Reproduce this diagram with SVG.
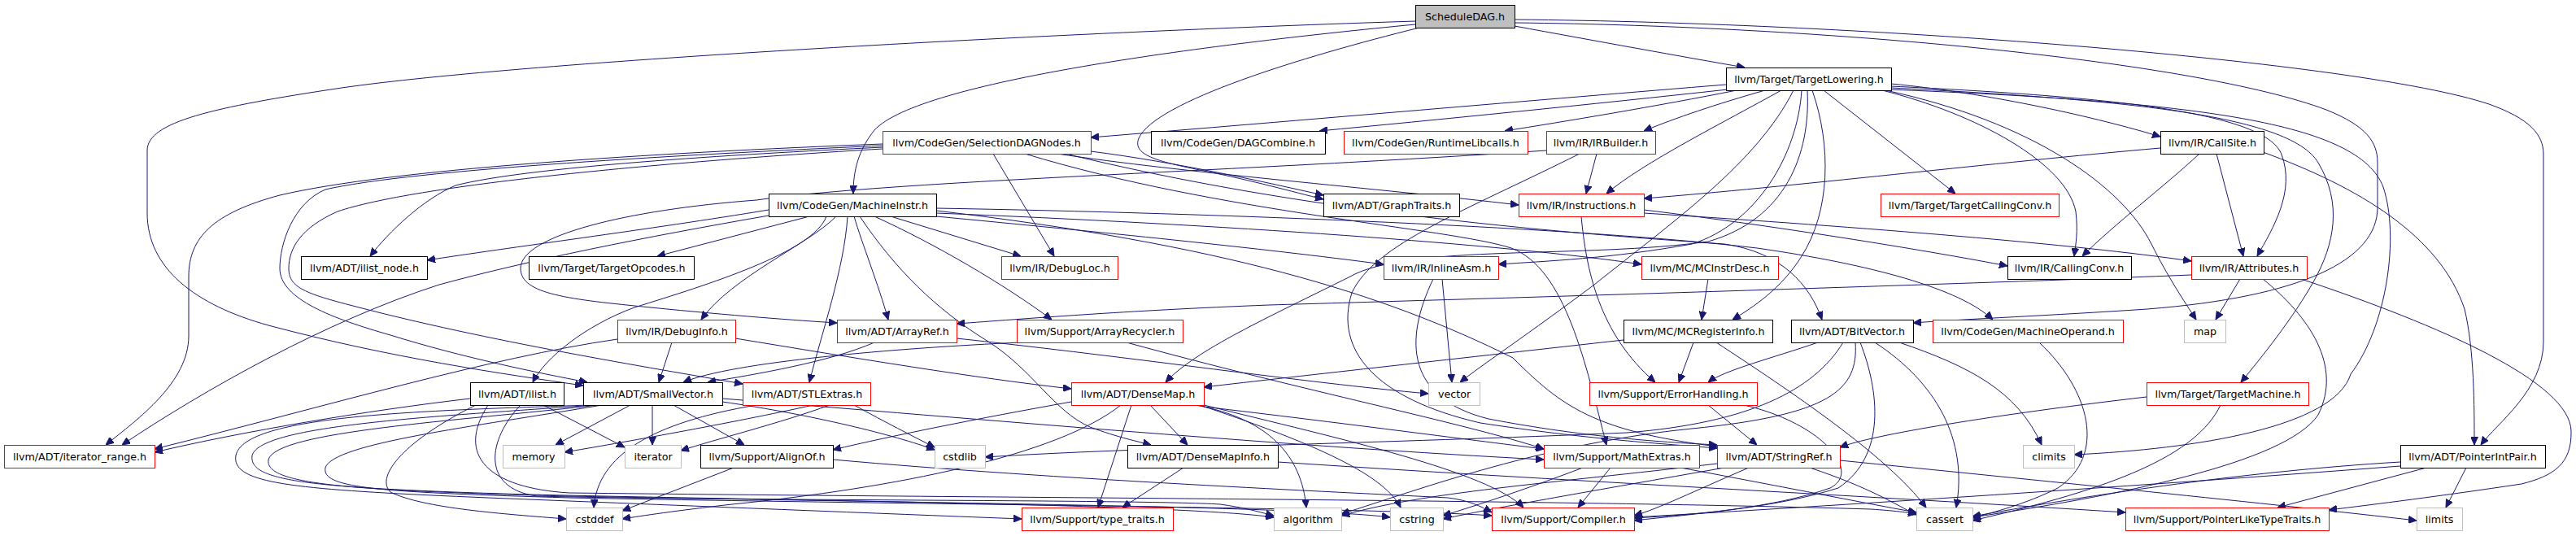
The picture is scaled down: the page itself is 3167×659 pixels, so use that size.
<svg xmlns="http://www.w3.org/2000/svg" width="3167" height="659" viewBox="0 0 3167 659">
<style>
.e{fill:none;stroke:#191970;stroke-width:1;marker-end:url(#a)}
.nb rect{fill:#fff;stroke:#000}
.nr rect{fill:#fff;stroke:#f00}
.ng rect{fill:#fff;stroke:#bfbfbf}
.root rect{fill:#bfbfbf;stroke:#000}
text{font-family:"DejaVu Sans","Liberation Sans",sans-serif;font-size:12.7px;text-anchor:middle;fill:#000}
</style>
<defs>
<marker id="a" markerWidth="10" markerHeight="9" refX="10" refY="4.5" orient="auto" markerUnits="userSpaceOnUse"><path d="M0,0 L10,4.5 L0,9 z" fill="#191970" stroke="#191970"/></marker>
</defs>
<rect width="3167" height="659" fill="#fff"/>
<g id="edges">
<path class="e" d="M1862,32 C1960,50 2070,70 2145,83"/>
<path class="e" d="M1740,30 C1480,55 1130,100 1075,160 C1055,185 1049,210 1049,238"/>
<path class="e" d="M1745,34 C1600,70 1420,125 1400,170 C1392,190 1420,198 1480,210 C1540,222 1590,236 1627,245"/>
<path class="e" d="M1740,26 C1300,40 650,75 420,108 C260,132 181,150 181,185 L181,262 C181,330 240,375 330,400 C480,440 620,460 717,474"/>
<path class="e" d="M1862,28 C2250,32 2700,75 2860,135 C2910,155 2923,175 2923,200 L2923,255 C2923,320 2830,365 2640,380 C2520,388 2420,392 2352,397"/>
<path class="e" d="M1862,24 C2300,28 2900,75 3060,128 C3110,146 3127,165 3127,190 L3127,420 C3127,480 3070,520 3050,547"/>
<path class="e" d="M2122,104 C1900,122 1600,148 1341,169"/>
<path class="e" d="M2124,110 C1960,128 1760,148 1622,161"/>
<path class="e" d="M2135,111 C2040,130 1920,150 1850,161"/>
<path class="e" d="M2170,111 C2110,128 2060,145 2021,161"/>
<path class="e" d="M2190,111 C2120,150 2020,200 1975,238"/>
<path class="e" d="M2205,111 C2160,200 2060,270 1960,350 C1880,410 1820,450 1795,470"/>
<path class="e" d="M2215,111 C2210,190 2160,275 2080,300 C1980,318 1900,321 1842,325"/>
<path class="e" d="M2222,111 C2226,190 2195,270 2100,297 C1950,318 1730,300 1660,340 C1560,390 1470,430 1433,470"/>
<path class="e" d="M2228,111 C2252,180 2250,260 2215,315 C2190,355 2155,378 2130,393"/>
<path class="e" d="M2242,111 L2404,238"/>
<path class="e" d="M2314,111 C2430,140 2540,200 2552,260 C2555,285 2552,300 2550,315"/>
<path class="e" d="M2325,103 C2450,115 2580,145 2656,168"/>
<path class="e" d="M2325,106 C2570,118 2785,135 2805,190 C2822,235 2795,280 2775,315"/>
<path class="e" d="M2325,108 C2600,122 2815,140 2850,200 C2880,250 2870,300 2845,345 C2820,390 2780,440 2755,470"/>
<path class="e" d="M2322,110 C2700,125 2900,150 2930,230 C2950,290 2935,400 2890,460 C2870,525 2700,552 2550,559"/>
<path class="e" d="M2318,111 C2500,150 2610,230 2645,300 C2665,340 2685,370 2700,393"/>
<path class="e" d="M1341,186 C1450,200 1560,225 1627,240"/>
<path class="e" d="M1300,189 C1450,212 1700,232 1867,252"/>
<path class="e" d="M1221,189 L1296,315"/>
<path class="e" d="M1085,181 C900,190 650,205 560,228 C520,245 478,285 455,315"/>
<path class="e" d="M1085,177 C800,188 480,208 344,240 C262,262 232,292 232,340 L232,413 C232,470 170,515 130,547"/>
<path class="e" d="M1085,179 C800,192 500,210 400,233 C360,250 344,300 344,330 C344,368 410,392 480,412 C570,440 660,458 722,470"/>
<path class="e" d="M1085,183 C800,200 510,228 415,260 C370,280 355,305 355,330 C355,352 372,360 430,375 C600,420 800,452 913,472"/>
<path class="e" d="M1310,189 C1600,260 1900,285 2120,300 C2190,310 2225,350 2240,393"/>
<path class="e" d="M1260,189 C1500,262 1780,280 1858,305 C1925,330 1950,450 1975,547"/>
<path class="e" d="M945,258 C800,282 620,305 525,320"/>
<path class="e" d="M945,265 C790,292 650,320 540,350 C400,395 250,480 150,547"/>
<path class="e" d="M995,266 L808,315"/>
<path class="e" d="M1095,266 L1255,315"/>
<path class="e" d="M1016,266 C1000,310 870,350 780,378 C720,400 670,440 655,470"/>
<path class="e" d="M1028,266 C995,300 900,340 862,393"/>
<path class="e" d="M1050,266 C1060,300 1080,350 1092,393"/>
<path class="e" d="M1042,266 C1038,330 1010,410 995,470"/>
<path class="e" d="M1075,266 C1150,300 1235,350 1293,393"/>
<path class="e" d="M1057,266 C1100,330 1150,380 1215,420 C1270,455 1295,505 1340,525 C1375,538 1400,543 1415,547"/>
<path class="e" d="M1151,266 C1350,285 1550,305 1701,325"/>
<path class="e" d="M1151,262 C1500,276 1850,300 2018,325"/>
<path class="e" d="M1151,256 C1500,262 1950,280 2160,305 C2300,325 2410,355 2450,393"/>
<path class="e" d="M1151,259 C1500,300 1700,360 1860,440 C1920,500 1960,530 2111,549"/>
<path class="e" d="M1944,266 C1950,330 1965,410 2035,470"/>
<path class="e" d="M2021,262 C2300,280 2550,300 2694,321"/>
<path class="e" d="M2021,258 C2200,280 2380,310 2468,327"/>
<path class="e" d="M1963,189 L1950,238"/>
<path class="e" d="M1901,185 C1500,212 1100,222 930,246 C770,258 640,290 640,330 C640,362 700,368 800,378 C900,388 980,394 1029,397"/>
<path class="e" d="M1942,189 C1800,260 1690,300 1662,360 C1640,430 1690,490 1820,520 C1950,540 2050,546 2111,551"/>
<path class="e" d="M1762,343 C1725,420 1730,490 1830,515 C1950,538 2050,544 2111,547"/>
<path class="e" d="M1773,343 L1785,470"/>
<path class="e" d="M2656,182 C2450,200 2200,230 2021,244"/>
<path class="e" d="M2704,189 C2660,230 2600,275 2560,315"/>
<path class="e" d="M2725,189 L2758,315"/>
<path class="e" d="M2782,187 C2900,230 3000,290 3030,380 C3042,430 3042,500 3042,547"/>
<path class="e" d="M2754,343 L2724,393"/>
<path class="e" d="M2829,343 C3000,400 3160,470 3161,530 C3162,570 3140,585 3100,595 C3000,610 2920,620 2863,627"/>
<path class="e" d="M2782,343 C2840,390 2880,450 2850,510 C2810,570 2600,610 2425,636"/>
<path class="e" d="M2694,338 C2400,350 1800,368 1560,375 C1380,382 1260,392 1176,398"/>
<path class="e" d="M826,421 L810,470"/>
<path class="e" d="M904,416 C1050,440 1200,465 1317,478"/>
<path class="e" d="M759,417 C600,440 400,500 190,552"/>
<path class="e" d="M1075,421 C1020,445 930,460 870,470"/>
<path class="e" d="M1176,416 C1400,440 1600,470 1756,484"/>
<path class="e" d="M1255,421 C1100,428 900,445 840,470"/>
<path class="e" d="M1385,421 C1600,480 1800,520 1898,552"/>
<path class="e" d="M2100,343 L2092,393"/>
<path class="e" d="M1996,418 C1800,440 1600,462 1480,476"/>
<path class="e" d="M2082,421 L2064,470"/>
<path class="e" d="M2110,421 C2200,480 2320,560 2368,624"/>
<path class="e" d="M2235,421 C2180,440 2120,455 2100,470"/>
<path class="e" d="M2266,421 C2230,480 2150,520 2000,532 C1700,545 1400,550 1211,562"/>
<path class="e" d="M2281,421 C2285,480 2250,510 2080,527 C1900,545 1750,600 1649,632"/>
<path class="e" d="M2305,421 C2380,470 2420,540 2405,624"/>
<path class="e" d="M2335,421 C2420,450 2480,480 2510,547"/>
<path class="e" d="M2287,421 C2310,480 2320,560 2260,600 C2180,625 2080,633 2009,637"/>
<path class="e" d="M2507,421 C2570,480 2590,560 2530,600 C2490,620 2450,630 2425,637"/>
<path class="e" d="M2639,488 C2450,510 2300,535 2262,550"/>
<path class="e" d="M2730,498 C2700,560 2600,600 2425,640"/>
<path class="e" d="M2100,498 L2160,547"/>
<path class="e" d="M2144,498 C2240,520 2290,580 2250,600 C2180,625 2080,632 2009,640"/>
<path class="e" d="M668,498 L768,550"/>
<path class="e" d="M585,498 C500,540 460,585 480,605 C520,625 620,632 696,638"/>
<path class="e" d="M578,490 C450,505 300,530 190,556"/>
<path class="e" d="M640,498 C600,540 590,600 660,610 C900,616 1400,614 1500,620 C1530,624 1550,630 1566,634"/>
<path class="e" d="M600,498 C560,560 600,600 700,606 C1200,612 1900,614 2300,626 C2330,628 2345,630 2356,632"/>
<path class="e" d="M775,498 L683,547"/>
<path class="e" d="M802,498 L802,547"/>
<path class="e" d="M828,498 L915,547"/>
<path class="e" d="M888,494 C1000,510 1100,535 1149,553"/>
<path class="e" d="M888,490 C1200,515 1600,550 1898,565"/>
<path class="e" d="M725,498 C520,505 300,510 290,560 C284,595 360,602 600,612 C900,624 1100,632 1256,638"/>
<path class="e" d="M730,498 C540,512 320,522 310,560 C305,592 380,600 650,608 C1000,616 1450,620 1566,636"/>
<path class="e" d="M735,498 C560,518 340,530 330,565 C325,595 420,603 700,610 C1100,618 1600,622 1709,636"/>
<path class="e" d="M740,498 C580,525 410,545 400,575 C395,600 460,605 700,612 C1100,620 1700,624 1834,634"/>
<path class="e" d="M1000,498 C900,520 760,545 694,556"/>
<path class="e" d="M1020,498 C960,520 880,540 837,554"/>
<path class="e" d="M1050,498 C1090,520 1120,535 1149,550"/>
<path class="e" d="M930,498 C800,520 735,560 730,624"/>
<path class="e" d="M1414,498 L1460,547"/>
<path class="e" d="M1391,498 L1350,624"/>
<path class="e" d="M1317,494 C1200,515 1100,535 1024,553"/>
<path class="e" d="M1378,498 C1300,560 1100,600 900,620 C830,628 790,634 765,638"/>
<path class="e" d="M1480,500 C1650,520 1800,540 1898,552"/>
<path class="e" d="M1470,498 C1560,515 1600,560 1606,624"/>
<path class="e" d="M1475,498 C1600,540 1700,580 1722,624"/>
<path class="e" d="M1480,498 C1650,540 1830,580 1873,624"/>
<path class="e" d="M1455,575 L1380,624"/>
<path class="e" d="M1571,568 C1900,590 2300,610 2613,630"/>
<path class="e" d="M902,575 L765,628"/>
<path class="e" d="M1024,565 C1300,590 1650,605 1780,612 C1805,615 1820,622 1834,630"/>
<path class="e" d="M1980,575 L1940,624"/>
<path class="e" d="M1946,575 C1880,600 1820,620 1774,634"/>
<path class="e" d="M2066,575 C2200,600 2300,620 2356,630"/>
<path class="e" d="M2111,570 C1900,595 1750,605 1649,634"/>
<path class="e" d="M2120,575 C1950,605 1850,622 1774,638"/>
<path class="e" d="M2150,575 C2080,605 2040,625 2009,634"/>
<path class="e" d="M2225,575 C2300,600 2330,620 2356,633"/>
<path class="e" d="M2262,566 C2500,590 2800,620 2971,640"/>
<path class="e" d="M2983,575 L2800,624"/>
<path class="e" d="M3032,575 L3007,624"/>
<path class="e" d="M2951,568 C2750,580 2550,612 2425,635"/>
<path class="e" d="M2951,573 C2600,600 2200,625 2009,636"/>
</g>
<g id="n1" class="root"><rect x="1740.5" y="6.5" width="122" height="28"/><text x="1801" y="24.5">ScheduleDAG.h</text></g>
<g id="n2" class="nb"><rect x="2122.5" y="83.5" width="203" height="28"/><text x="2224" y="101.5">llvm/Target/TargetLowering.h</text></g>
<g id="n3" class="nr"><rect x="1085.5" y="161.5" width="256" height="28"/><text x="1213" y="179.5">llvm/CodeGen/SelectionDAGNodes.h</text></g>
<g id="n4" class="nb"><rect x="1415.5" y="161.5" width="214" height="28"/><text x="1522" y="179.5">llvm/CodeGen/DAGCombine.h</text></g>
<g id="n5" class="nr"><rect x="1652.5" y="161.5" width="226" height="28"/><text x="1765" y="179.5">llvm/CodeGen/RuntimeLibcalls.h</text></g>
<g id="n6" class="nr"><rect x="1901.5" y="161.5" width="134" height="28"/><text x="1968" y="179.5">llvm/IR/IRBuilder.h</text></g>
<g id="n7" class="nb"><rect x="2656.5" y="161.5" width="127" height="28"/><text x="2720" y="179.5">llvm/IR/CallSite.h</text></g>
<g id="n8" class="nb"><rect x="945.5" y="238.5" width="206" height="28"/><text x="1048" y="256.5">llvm/CodeGen/MachineInstr.h</text></g>
<g id="n9" class="nb"><rect x="1627.5" y="238.5" width="167" height="28"/><text x="1711" y="256.5">llvm/ADT/GraphTraits.h</text></g>
<g id="n10" class="nr"><rect x="1867.5" y="238.5" width="154" height="28"/><text x="1944" y="256.5">llvm/IR/Instructions.h</text></g>
<g id="n11" class="nr"><rect x="2312.5" y="238.5" width="219" height="28"/><text x="2422" y="256.5">llvm/Target/TargetCallingConv.h</text></g>
<g id="n12" class="nb"><rect x="370.5" y="315.5" width="155" height="28"/><text x="448" y="333.5">llvm/ADT/ilist_node.h</text></g>
<g id="n13" class="nb"><rect x="650.5" y="315.5" width="203" height="28"/><text x="752" y="333.5">llvm/Target/TargetOpcodes.h</text></g>
<g id="n14" class="nr"><rect x="1231.5" y="315.5" width="143" height="28"/><text x="1303" y="333.5">llvm/IR/DebugLoc.h</text></g>
<g id="n15" class="nr"><rect x="1701.5" y="315.5" width="141" height="28"/><text x="1772" y="333.5">llvm/IR/InlineAsm.h</text></g>
<g id="n16" class="nr"><rect x="2018.5" y="315.5" width="168" height="28"/><text x="2102" y="333.5">llvm/MC/MCInstrDesc.h</text></g>
<g id="n17" class="nb"><rect x="2468.5" y="315.5" width="152" height="28"/><text x="2544" y="333.5">llvm/IR/CallingConv.h</text></g>
<g id="n18" class="nr"><rect x="2694.5" y="315.5" width="142" height="28"/><text x="2765" y="333.5">llvm/IR/Attributes.h</text></g>
<g id="n19" class="nr"><rect x="759.5" y="393.5" width="145" height="28"/><text x="832" y="411.5">llvm/IR/DebugInfo.h</text></g>
<g id="n20" class="nr"><rect x="1029.5" y="393.5" width="147" height="28"/><text x="1103" y="411.5">llvm/ADT/ArrayRef.h</text></g>
<g id="n21" class="nr"><rect x="1250.5" y="393.5" width="204" height="28"/><text x="1352" y="411.5">llvm/Support/ArrayRecycler.h</text></g>
<g id="n22" class="nb"><rect x="1996.5" y="393.5" width="183" height="28"/><text x="2088" y="411.5">llvm/MC/MCRegisterInfo.h</text></g>
<g id="n23" class="nb"><rect x="2202.5" y="393.5" width="150" height="28"/><text x="2277" y="411.5">llvm/ADT/BitVector.h</text></g>
<g id="n24" class="nr"><rect x="2376.5" y="393.5" width="234" height="28"/><text x="2493" y="411.5">llvm/CodeGen/MachineOperand.h</text></g>
<g id="n25" class="ng"><rect x="2685.5" y="393.5" width="51" height="28"/><text x="2711" y="411.5">map</text></g>
<g id="n26" class="nb"><rect x="578.5" y="470.5" width="115" height="28"/><text x="636" y="488.5">llvm/ADT/ilist.h</text></g>
<g id="n27" class="nb"><rect x="717.5" y="470.5" width="171" height="28"/><text x="803" y="488.5">llvm/ADT/SmallVector.h</text></g>
<g id="n28" class="nr"><rect x="913.5" y="470.5" width="157" height="28"/><text x="992" y="488.5">llvm/ADT/STLExtras.h</text></g>
<g id="n29" class="nr"><rect x="1317.5" y="470.5" width="163" height="28"/><text x="1399" y="488.5">llvm/ADT/DenseMap.h</text></g>
<g id="n30" class="ng"><rect x="1756.5" y="470.5" width="63" height="28"/><text x="1788" y="488.5">vector</text></g>
<g id="n31" class="nr"><rect x="1954.5" y="470.5" width="206" height="28"/><text x="2057" y="488.5">llvm/Support/ErrorHandling.h</text></g>
<g id="n32" class="nr"><rect x="2639.5" y="470.5" width="199" height="28"/><text x="2739" y="488.5">llvm/Target/TargetMachine.h</text></g>
<g id="n33" class="nr"><rect x="5.5" y="547.5" width="185" height="28"/><text x="98" y="565.5">llvm/ADT/iterator_range.h</text></g>
<g id="n34" class="ng"><rect x="618.5" y="547.5" width="76" height="28"/><text x="656" y="565.5">memory</text></g>
<g id="n35" class="ng"><rect x="768.5" y="547.5" width="69" height="28"/><text x="803" y="565.5">iterator</text></g>
<g id="n36" class="nb"><rect x="861.5" y="547.5" width="163" height="28"/><text x="943" y="565.5">llvm/Support/AlignOf.h</text></g>
<g id="n37" class="ng"><rect x="1149.5" y="547.5" width="62" height="28"/><text x="1180" y="565.5">cstdlib</text></g>
<g id="n38" class="nb"><rect x="1386.5" y="547.5" width="185" height="28"/><text x="1479" y="565.5">llvm/ADT/DenseMapInfo.h</text></g>
<g id="n39" class="nr"><rect x="1898.5" y="547.5" width="191" height="28"/><text x="1994" y="565.5">llvm/Support/MathExtras.h</text></g>
<g id="n40" class="nr"><rect x="2111.5" y="547.5" width="151" height="28"/><text x="2187" y="565.5">llvm/ADT/StringRef.h</text></g>
<g id="n41" class="ng"><rect x="2487.5" y="547.5" width="63" height="28"/><text x="2519" y="565.5">climits</text></g>
<g id="n42" class="nb"><rect x="2951.5" y="547.5" width="178" height="28"/><text x="3040" y="565.5">llvm/ADT/PointerIntPair.h</text></g>
<g id="n43" class="ng"><rect x="696.5" y="624.5" width="69" height="28"/><text x="731" y="642.5">cstddef</text></g>
<g id="n44" class="nr"><rect x="1256.5" y="624.5" width="186" height="28"/><text x="1349" y="642.5">llvm/Support/type_traits.h</text></g>
<g id="n45" class="ng"><rect x="1566.5" y="624.5" width="83" height="28"/><text x="1608" y="642.5">algorithm</text></g>
<g id="n46" class="ng"><rect x="1709.5" y="624.5" width="65" height="28"/><text x="1742" y="642.5">cstring</text></g>
<g id="n47" class="nr"><rect x="1834.5" y="624.5" width="175" height="28"/><text x="1922" y="642.5">llvm/Support/Compiler.h</text></g>
<g id="n48" class="ng"><rect x="2356.5" y="624.5" width="69" height="28"/><text x="2391" y="642.5">cassert</text></g>
<g id="n49" class="nr"><rect x="2613.5" y="624.5" width="250" height="28"/><text x="2738" y="642.5">llvm/Support/PointerLikeTypeTraits.h</text></g>
<g id="n50" class="ng"><rect x="2971.5" y="624.5" width="56" height="28"/><text x="2999" y="642.5">limits</text></g>
</svg>
